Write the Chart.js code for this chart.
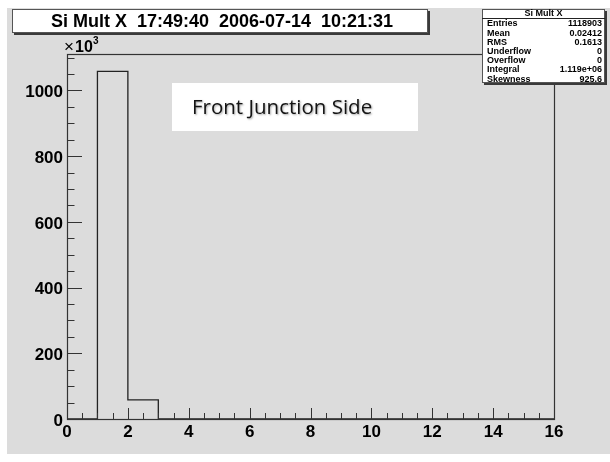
<!DOCTYPE html>
<html>
<head>
<meta charset="utf-8">
<title>Si Mult X</title>
<script src="https://cdn.jsdelivr.net/npm/chart.js@4.4.1/dist/chart.umd.min.js"></script>
<style>
  html, body { margin: 0; padding: 0; background: #ffffff; }
  #c { display: block; }
</style>
</head>
<body>
<canvas id="c" width="610" height="462"></canvas>
<script>
// ---- histogram content ----
const binLowEdges = [0, 1, 2, 3, 4, 5, 6, 7, 8, 9, 10, 11, 12, 13, 14, 15];
const binCounts   = [0, 1058000, 58000, 0, 0, 0, 0, 0, 0, 0, 0, 0, 0, 0, 0, 0];
const xUpperEdge  = 16;

const xTickValues = [0, 2, 4, 6, 8, 10, 12, 14, 16];
const yTickValues = [0, 200000, 400000, 600000, 800000, 1000000];

const titleText = 'Si Mult X  17:49:40  2006-07-14  10:21:31';
const noteText  = 'Front Junction Side';

const statsHeader = 'Si Mult X';
const statsLabels = ['Entries', 'Mean', 'RMS', 'Underflow', 'Overflow', 'Integral', 'Skewness'];
const statsValues = ['1118903', '0.02412', '0.1613', '0', '0', '1.119e+06', '925.6'];

// ---- derived ----
const yMax = 1.05 * Math.max(...binCounts);
const histPoints = binLowEdges.map((x, i) => ({ x: x, y: binCounts[i] }));
histPoints.push({ x: xUpperEdge, y: binCounts[binCounts.length - 1] });

const GREY = 'rgb(220,220,220)';
const AXIS = '#333333';

// canvas background (pad colour)
const padBackground = {
  id: 'padBackground',
  beforeDraw(chart) {
    const ctx = chart.ctx;
    ctx.save();
    ctx.fillStyle = '#ffffff';
    ctx.fillRect(0, 0, chart.width, chart.height);
    ctx.fillStyle = GREY;
    ctx.fillRect(7, 8, chart.width - 7, 446);
    ctx.restore();
  }
};

// frame and inward tick marks
const frameAndTicks = {
  id: 'frameAndTicks',
  afterDatasetsDraw(chart) {
    const { ctx, chartArea: a, scales: { x, y } } = chart;
    ctx.save();
    ctx.strokeStyle = AXIS;
    ctx.lineWidth = 1;
    ctx.beginPath();
    // y ticks: major every 200k, minor every 50k
    for (let v = 0; v <= yMax; v += 50000) {
      const py = Math.round(y.getPixelForValue(v)) + 0.5;
      const len = (v % 200000 === 0) ? 15 : 7.5;
      ctx.moveTo(a.left, py);
      ctx.lineTo(a.left + len, py);
    }
    // x ticks: major every 2, minor every 0.5
    for (let v = 0; v <= xUpperEdge + 1e-9; v += 0.5) {
      const px = Math.round(x.getPixelForValue(v)) + 0.5;
      const len = (v % 2 === 0) ? 11 : 6;
      ctx.moveTo(px, a.bottom);
      ctx.lineTo(px, a.bottom - len);
    }
    ctx.stroke();
    // frame
    ctx.lineWidth = 1.2;
    ctx.strokeRect(Math.round(a.left) + 0.5, Math.round(a.top) + 0.5,
                   Math.round(a.right - a.left), Math.round(a.bottom - a.top));
    ctx.restore();
  }
};

function shadowBox(ctx, x, y, w, h) {
  ctx.fillStyle = '#3a3a3a';
  ctx.fillRect(x + 2, y + 2, w, h);
  ctx.fillStyle = '#ffffff';
  ctx.fillRect(x, y, w, h);
  ctx.strokeStyle = '#555555';
  ctx.lineWidth = 1;
  ctx.strokeRect(x + 0.5, y + 0.5, w - 1, h - 1);
}

// title pave, statistics box, exponent label and note
const overlays = {
  id: 'overlays',
  afterDraw(chart) {
    const { ctx, chartArea: a } = chart;
    ctx.save();

    // title
    shadowBox(ctx, 12, 9, 416, 24);
    ctx.fillStyle = '#000';
    ctx.font = 'bold 18px "Liberation Sans", Arial, sans-serif';
    ctx.textAlign = 'center';
    ctx.textBaseline = 'middle';
    ctx.fillText(titleText, 222, 22);

    // statistics box
    const sx = 482, sy = 9, sw = 123, sh = 74;
    shadowBox(ctx, sx, sy, sw, sh);
    ctx.strokeStyle = '#222';
    ctx.beginPath();
    ctx.moveTo(sx, sy + 9.5);
    ctx.lineTo(sx + sw, sy + 9.5);
    ctx.stroke();
    ctx.fillStyle = '#000';
    ctx.font = 'bold 9px "Liberation Sans", Arial, sans-serif';
    ctx.textAlign = 'center';
    ctx.fillText(statsHeader, sx + sw / 2, sy + 5);
    statsLabels.forEach((lab, i) => {
      const ty = sy + 15 + i * 9.2;
      ctx.textAlign = 'left';
      ctx.fillText(lab, sx + 5, ty);
      ctx.textAlign = 'right';
      ctx.fillText(statsValues[i], sx + sw - 3, ty);
    });

    // axis exponent
    ctx.textBaseline = 'alphabetic';
    ctx.textAlign = 'left';
    ctx.font = '17px "Liberation Sans", Arial, sans-serif';
    ctx.fillText('\u00d7', a.left - 3, 52);
    ctx.font = 'bold 16px "Liberation Sans", Arial, sans-serif';
    ctx.fillText('10', a.left + 8, 52);
    ctx.font = 'bold 10px "Liberation Sans", Arial, sans-serif';
    ctx.fillText('3', a.left + 26, 44);

    // note
    ctx.fillStyle = '#ffffff';
    ctx.fillRect(172, 83, 246, 48);
    ctx.font = '20.5px "Open Sans", Lato, sans-serif';
    ctx.textBaseline = 'alphabetic';
    ctx.textAlign = 'left';
    ctx.shadowColor = 'rgba(0,0,0,0.35)';
    ctx.shadowOffsetX = 1;
    ctx.shadowOffsetY = 1;
    ctx.shadowBlur = 2;
    ctx.fillStyle = '#141414';
    ctx.fillText(noteText, 192, 114);

    ctx.restore();
  }
};

new Chart(document.getElementById('c'), {
  type: 'line',
  data: {
    datasets: [{
      data: histPoints,
      stepped: 'before',
      borderColor: '#222222',
      borderWidth: 1.3,
      pointRadius: 0,
      fill: false,
      clip: 4
    }]
  },
  options: {
    responsive: false,
    animation: false,
    devicePixelRatio: 1,
    layout: { padding: { top: 54, right: 56, left: 0, bottom: 0 } },
    plugins: { legend: { display: false }, tooltip: { enabled: false }, title: { display: false } },
    scales: {
      x: {
        type: 'linear',
        min: 0,
        max: xUpperEdge,
        grid: { display: false, drawTicks: false },
        border: { display: false },
        afterBuildTicks: s => { s.ticks = xTickValues.map(v => ({ value: v })); },
        afterFit: s => { s.height = 43; },
        ticks: {
          font: { family: '"Liberation Sans", Arial, sans-serif', weight: 'bold', size: 17 },
          color: '#000',
          padding: 3,
          maxRotation: 0,
          autoSkip: false,
          callback: v => String(v)
        }
      },
      y: {
        type: 'linear',
        min: 0,
        max: yMax,
        grid: { display: false, drawTicks: false },
        border: { display: false },
        afterBuildTicks: s => { s.ticks = yTickValues.map(v => ({ value: v })); },
        afterFit: s => { s.width = 67; },
        ticks: {
          font: { family: '"Liberation Sans", Arial, sans-serif', weight: 'bold', size: 17 },
          color: '#000',
          padding: 4,
          labelOffset: 2,
          autoSkip: false,
          callback: v => String(v / 1000)
        }
      }
    }
  },
  plugins: [padBackground, frameAndTicks, overlays]
});
</script>
</body>
</html>
